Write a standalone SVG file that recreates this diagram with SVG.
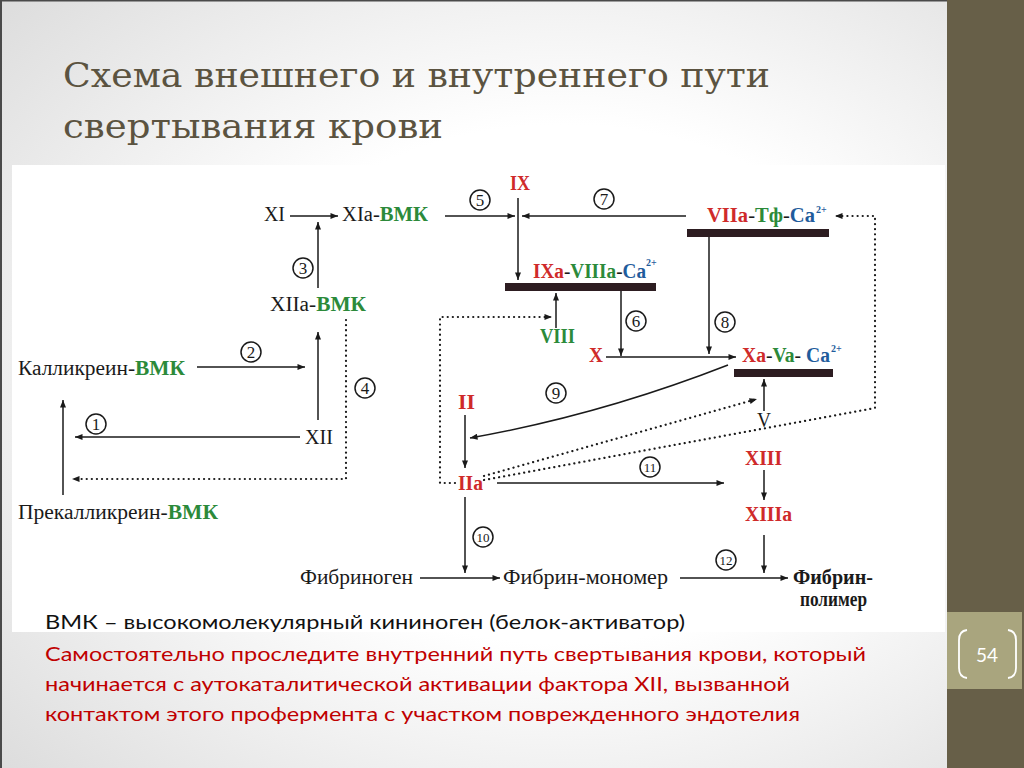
<svg xmlns="http://www.w3.org/2000/svg" width="1024" height="768" viewBox="0 0 1024 768">
<defs>
<radialGradient id="bg" cx="55%" cy="50%" r="75%">
<stop offset="0.45" stop-color="#ffffff"/>
<stop offset="1" stop-color="#dcdcdc"/>
</radialGradient>
<marker id="ah" viewBox="0 0 10 8" refX="10" refY="4" markerWidth="9" markerHeight="6" markerUnits="userSpaceOnUse" orient="auto">
<path d="M0,0 L10,4 L0,8 z" fill="#1a1a1a"/>
</marker>
</defs>
<style>
.lbl{font-family:"Liberation Serif","Times New Roman",serif;font-size:20px;fill:#1a1a1a}
.bd{font-weight:bold}
.r{fill:#cf2a2a;font-weight:bold}
.g{fill:#2c8a3a;font-weight:bold}
.bl{fill:#1f5c9c;font-weight:bold}
.sup{font-size:10px;font-weight:bold;fill:#1f5c9c;font-family:"Liberation Serif",serif}
.ln{stroke:#1a1a1a;stroke-width:1.5;fill:none;marker-end:url(#ah)}
.dot{stroke:#1a1a1a;stroke-width:2.2;stroke-dasharray:0.1 5;stroke-linecap:round;fill:none;marker-end:url(#ah)}
.circ{fill:none;stroke:#1a1a1a;stroke-width:1.5}
.cn{font-family:"Liberation Serif",serif;font-size:17px;fill:#1a1a1a;text-anchor:middle}
.cn2{font-family:"Liberation Serif",serif;font-size:13px;fill:#1a1a1a;text-anchor:middle}
.bar{fill:#2d1d21}
.note{font-family:Lato,"Liberation Sans",sans-serif;font-size:20px}
</style>

<!-- slide background -->
<rect x="0" y="0" width="1024" height="768" fill="url(#bg)"/>
<rect x="0" y="0" width="2" height="768" fill="#4a4a4a"/>
<rect x="0" y="0" width="1024" height="1.5" fill="#4a4a4a"/>
<rect x="947" y="0" width="77" height="768" fill="#675f48"/>
<g id="page-number">
<rect x="947" y="612" width="75" height="77" fill="#a9a57e"/>
<path d="M967,630 Q959,631 959,640 V668 Q959,677 967,678" fill="none" stroke="#ffffff" stroke-width="1.8"/>
<path d="M1008,630 Q1016,631 1016,640 V668 Q1016,677 1008,678" fill="none" stroke="#ffffff" stroke-width="1.8"/>
<text x="987" y="662" text-anchor="middle" font-family="Lato,'Liberation Sans',sans-serif" font-size="19" fill="#ffffff">54</text>
</g>

<g id="heading">
<text style="font-family:'DejaVu Serif',serif;font-size:34px;fill:#5b5340" x="63" y="87" textLength="707" lengthAdjust="spacingAndGlyphs">Схема внешнего и внутреннего пути</text>
<text style="font-family:'DejaVu Serif',serif;font-size:34px;fill:#5b5340" x="63" y="138" textLength="380" lengthAdjust="spacingAndGlyphs">свертывания крови</text>
</g>

<!-- picture area -->
<rect x="12" y="165" width="933" height="467" fill="#ffffff"/>

<g id="bars">
<rect class="bar" x="505" y="283" width="151" height="8"/>
<rect class="bar" x="687" y="229" width="142" height="8"/>
<rect class="bar" x="734" y="369" width="99" height="8"/>
</g>

<g id="connectors">
<line class="ln" x1="290" y1="216" x2="338" y2="216"/>
<line class="ln" x1="318" y1="288" x2="318" y2="222"/>
<line class="ln" x1="445" y1="216" x2="515" y2="216"/>
<line class="ln" x1="686" y1="216" x2="522" y2="216"/>
<line class="ln" x1="518" y1="198" x2="518" y2="280"/>
<line class="ln" x1="556" y1="328" x2="556" y2="293"/>
<line class="ln" x1="621" y1="291" x2="621" y2="356"/>
<line class="ln" x1="606" y1="357" x2="736" y2="357"/>
<line class="ln" x1="709" y1="237" x2="709" y2="354"/>
<path class="ln" d="M728,365 Q600,415 470,438"/>
<line class="ln" x1="465" y1="415" x2="465" y2="468"/>
<line class="ln" x1="497" y1="483" x2="724" y2="483"/>
<line class="ln" x1="465" y1="497" x2="465" y2="573"/>
<line class="ln" x1="420" y1="578" x2="500" y2="578"/>
<line class="ln" x1="680" y1="578" x2="788" y2="578"/>
<line class="ln" x1="764" y1="535" x2="764" y2="573"/>
<line class="ln" x1="764" y1="470" x2="764" y2="500"/>
<line class="ln" x1="764" y1="411" x2="764" y2="379"/>
<line class="ln" x1="300" y1="437" x2="75" y2="437"/>
<line class="ln" x1="197" y1="367" x2="305" y2="367"/>
<line class="ln" x1="318" y1="420" x2="318" y2="332"/>
<line class="ln" x1="63" y1="495" x2="63" y2="400"/>
<path class="dot" d="M346,320 V479 H72"/>
<path class="dot" d="M455,483 H440 V317 H552"/>
<path class="dot" d="M484,476 L757,399"/>
<path class="dot" d="M484,480 L875,408 V216 H835"/>
</g>

<g id="step-numbers">
<circle class="circ" cx="96" cy="424" r="10"/><text class="cn" x="96" y="430">1</text>
<circle class="circ" cx="251" cy="352" r="10"/><text class="cn" x="251" y="358">2</text>
<circle class="circ" cx="303" cy="268" r="10"/><text class="cn" x="303" y="274">3</text>
<circle class="circ" cx="365" cy="388" r="10"/><text class="cn" x="365" y="394">4</text>
<circle class="circ" cx="480" cy="200" r="10"/><text class="cn" x="480" y="206">5</text>
<circle class="circ" cx="636" cy="321" r="10"/><text class="cn" x="636" y="327">6</text>
<circle class="circ" cx="604" cy="199" r="10"/><text class="cn" x="604" y="205">7</text>
<circle class="circ" cx="725" cy="322" r="10"/><text class="cn" x="725" y="328">8</text>
<circle class="circ" cx="556" cy="393" r="10"/><text class="cn" x="556" y="399">9</text>
<circle class="circ" cx="483" cy="537" r="10"/><text class="cn2" x="483" y="542">10</text>
<circle class="circ" cx="650" cy="467" r="10"/><text class="cn2" x="650" y="472">11</text>
<circle class="circ" cx="726" cy="560" r="10"/><text class="cn2" x="726" y="565">12</text>
</g>

<g id="n-XI"><text class="lbl" x="264" y="221" textLength="21" lengthAdjust="spacingAndGlyphs">XI</text></g>
<g id="n-XIa-BMK"><text class="lbl" x="342" y="221" textLength="86" lengthAdjust="spacingAndGlyphs">XIa-<tspan class="g">ВМК</tspan></text></g>
<g id="n-XIIa-BMK"><text class="lbl" x="270" y="311" textLength="96" lengthAdjust="spacingAndGlyphs">XIIa-<tspan class="g">ВМК</tspan></text></g>
<g id="n-kallikrein"><text class="lbl" x="18" y="375" textLength="167" lengthAdjust="spacingAndGlyphs">Калликреин-<tspan class="g">ВМК</tspan></text></g>
<g id="n-XII"><text class="lbl" x="305" y="444" textLength="28" lengthAdjust="spacingAndGlyphs">XII</text></g>
<g id="n-prekallikrein"><text class="lbl" x="18" y="519" textLength="200" lengthAdjust="spacingAndGlyphs">Прекалликреин-<tspan class="g">ВМК</tspan></text></g>
<g id="n-IX"><text class="lbl r" x="510" y="190" textLength="20" lengthAdjust="spacingAndGlyphs">IX</text></g>
<g id="n-IXa-VIIIa-Ca"><text class="lbl" x="533" y="278" textLength="113" lengthAdjust="spacingAndGlyphs"><tspan class="r">IXa</tspan>-<tspan class="g">VIIIa</tspan>-<tspan class="bl">Ca</tspan></text><text class="sup" x="646" y="266">2+</text></g>
<g id="n-VIII"><text class="lbl g" x="540" y="343" textLength="35" lengthAdjust="spacingAndGlyphs">VIII</text></g>
<g id="n-X"><text class="lbl r" x="589" y="362" textLength="14" lengthAdjust="spacingAndGlyphs">X</text></g>
<g id="n-VIIa-Tf-Ca"><text class="lbl" x="707" y="222" textLength="108" lengthAdjust="spacingAndGlyphs"><tspan class="r">VIIa</tspan>-<tspan class="g">Тф</tspan>-<tspan class="bl">Ca</tspan></text><text class="sup" x="816" y="213">2+</text></g>
<g id="n-Xa-Va-Ca"><text class="lbl" x="742" y="362" textLength="88" lengthAdjust="spacingAndGlyphs"><tspan class="r">Xa</tspan>-<tspan class="g">Va</tspan>- <tspan class="bl">Ca</tspan></text><text class="sup" x="831" y="352">2+</text></g>
<g id="n-II"><text class="lbl r" x="458" y="409" textLength="17" lengthAdjust="spacingAndGlyphs">II</text></g>
<g id="n-IIa"><text class="lbl r" x="458" y="490" textLength="25" lengthAdjust="spacingAndGlyphs">IIa</text></g>
<g id="n-V"><text class="lbl" x="757" y="427" textLength="14" lengthAdjust="spacingAndGlyphs">V</text></g>
<g id="n-XIII"><text class="lbl r" x="745" y="465" textLength="37" lengthAdjust="spacingAndGlyphs">XIII</text></g>
<g id="n-XIIIa"><text class="lbl r" x="745" y="521" textLength="47" lengthAdjust="spacingAndGlyphs">XIIIa</text></g>
<g id="n-fibrinogen"><text class="lbl" x="300" y="584" textLength="113" lengthAdjust="spacingAndGlyphs">Фибриноген</text></g>
<g id="n-fibrin-monomer"><text class="lbl" x="503" y="584" textLength="165" lengthAdjust="spacingAndGlyphs">Фибрин-мономер</text></g>
<g id="n-fibrin-polymer"><text class="lbl bd" x="793" y="584" textLength="80" lengthAdjust="spacingAndGlyphs">Фибрин-</text><text class="lbl bd" x="800" y="606" textLength="67" lengthAdjust="spacingAndGlyphs">полимер</text></g>

<g id="notes">
<text class="note" x="45" y="629" fill="#111111" textLength="640" lengthAdjust="spacingAndGlyphs">ВМК – высокомолекулярный кининоген (белок-активатор)</text>
<text class="note" x="45" y="661" fill="#c00000" textLength="821" lengthAdjust="spacingAndGlyphs">Самостоятельно проследите внутренний путь свертывания крови, который</text>
<text class="note" x="45" y="691" fill="#c00000" textLength="745" lengthAdjust="spacingAndGlyphs">начинается с аутокаталитической активации фактора XII, вызванной</text>
<text class="note" x="45" y="721" fill="#c00000" textLength="755" lengthAdjust="spacingAndGlyphs">контактом этого профермента с участком поврежденного эндотелия</text>
</g>
</svg>
